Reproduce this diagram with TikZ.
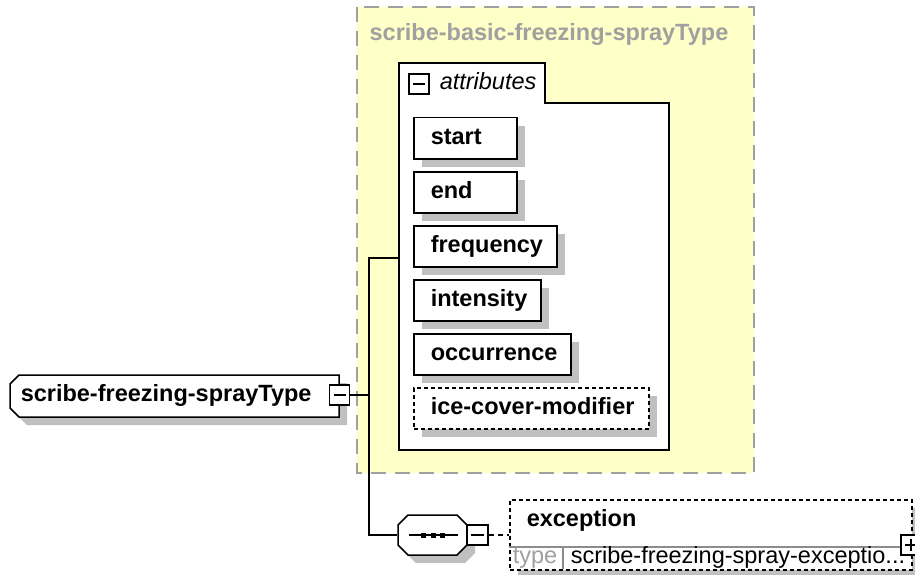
\documentclass[tikz,border=0pt]{standalone}
\usepackage{fontspec}
\setmainfont{Liberation Sans}
\usetikzlibrary{shadows}
\definecolor{yel}{HTML}{FFFFC8}
\definecolor{bordergray}{HTML}{A0A0A0}
\definecolor{shgray}{HTML}{C0C0C0}
\definecolor{txtgray}{HTML}{A0A0A0}
\definecolor{divgray}{HTML}{8C8C8C}
\begin{document}
\begin{tikzpicture}[x=1pt, y=-1pt, line width=1.5pt,
  fs/.style={font=\fontsize{23.5}{28}\selectfont},
  bfs/.style={font=\fontsize{23.5}{28}\selectfont\bfseries},
  txt/.style={inner sep=0pt, text height=16.8pt, text depth=4.9pt},
  shad/.style={general shadow={fill=shgray, shadow xshift=8pt, shadow yshift=-8pt}},
  attr/.style={draw, fill=white, shad, bfs, anchor=north west, minimum height=41pt,
    inner xsep=17pt, inner ysep=0pt, text height=16.8pt, text depth=4.9pt, align=left},
  optdash/.style={dash pattern=on 4pt off 3pt},
  minusbox/.style={draw, fill=white, minimum width=20pt, minimum height=20pt, inner sep=0pt,
    path picture={\draw[line width=1.5pt] ([xshift=4pt]path picture bounding box.west) -- ([xshift=-4pt]path picture bounding box.east);}},
  plusbox/.style={draw, fill=white, minimum width=20pt, minimum height=20pt, inner sep=0pt,
    path picture={\draw[line width=1.5pt] ([xshift=4pt]path picture bounding box.west) -- ([xshift=-4pt]path picture bounding box.east);
      \draw[line width=1.5pt] ([yshift=-4pt]path picture bounding box.north) -- ([yshift=4pt]path picture bounding box.south);}}
]
\useasboundingbox (0,0) rectangle (915,575);

% complex type container
\draw[bordergray, fill=yel, line width=2pt, dash pattern=on 15pt off 9pt] (357,7) rectangle (754,473);
\node[bfs, txt, text=txtgray] (title) at (549,35) {scribe-basic-freezing-sprayType};

% attributes tab
\draw[fill=white] (399,63) -- (545,63) -- (545,103) -- (669,103) -- (669,450) -- (399,450) -- cycle;
\node[minusbox] (tabpm) at (419,84) {};
\node[fs, txt, anchor=west, font=\fontsize{23.5}{28}\selectfont\itshape] (attrlabel) at (439,84) {attributes};

% attributes
\node[attr, text width=69pt] (start) at (413,117) {\mbox{start}};
\node[attr, text width=69pt] (end) at (413,171) {\mbox{end}};
\node[attr, text width=109pt] (freq) at (413,225) {\mbox{frequency}};
\node[attr, text width=93pt] (inten) at (413,279) {\mbox{intensity}};
\node[attr, text width=123pt] (occ) at (413,333) {\mbox{occurrence}};
\node[attr, optdash, text width=201pt] (ice) at (413,387) {\mbox{ice-cover-modifier}};

% root element
\draw[fill=white, shad] (19,375) -- (339,375) -- (339,417) -- (19,417) -- (10,408) -- (10,384) -- cycle;
\node[bfs, txt, anchor=west] (root) at (20,396) {scribe-freezing-sprayType};
\node[minusbox] (rootpm) at (339.5,395) {};

% sequence compositor
\draw[fill=white, shad] (408,515) -- (457,515) -- (467,525) -- (467,545) -- (457,555) -- (408,555) -- (398,545) -- (398,525) -- cycle;
\node[minimum width=69pt, minimum height=40pt, inner sep=0pt] (seq) at (432.5,535) {};
\draw (409,535) -- (458,535);
\fill (421,532.5) rectangle +(5,5);
\fill (430.5,532.5) rectangle +(5,5);
\fill (440,532.5) rectangle +(5,5);
\node[minusbox, minimum width=21pt] (seqpm) at (477.5,535) {};

% exception element
\node[draw, fill=white, optdash, shad, minimum width=402pt, minimum height=70pt, inner sep=0pt, anchor=north west] (exc) at (509,499) {};
\draw[divgray, line width=1.2pt] (509,547) -- (911,547);
\draw[divgray, line width=1.2pt] (563,547) -- (563,569);
\node[bfs, txt, anchor=west] (excname) at (526,521) {exception};
\node[fs, txt, anchor=west, text=txtgray] (exctype) at (512,558) {type};
\node[fs, txt, anchor=west] (exctypeval) at (570,558) {scribe-freezing-spray-exceptio...};
\node[plusbox] (excpm) at (911,545) {};

% connectors
\coordinate (vtop) at (369,258);
\coordinate (vbot) at (369,535);
\coordinate (attrin) at (399,258);
\draw (rootpm.east) -- (rootpm.east -| vtop);
\draw (attrin) -- (vtop) -- (vbot) -- (seq.west);
\draw[dash pattern=on 5pt off 4pt] (seqpm.east) -- (seqpm.east -| exc.west);
\end{tikzpicture}
\end{document}
